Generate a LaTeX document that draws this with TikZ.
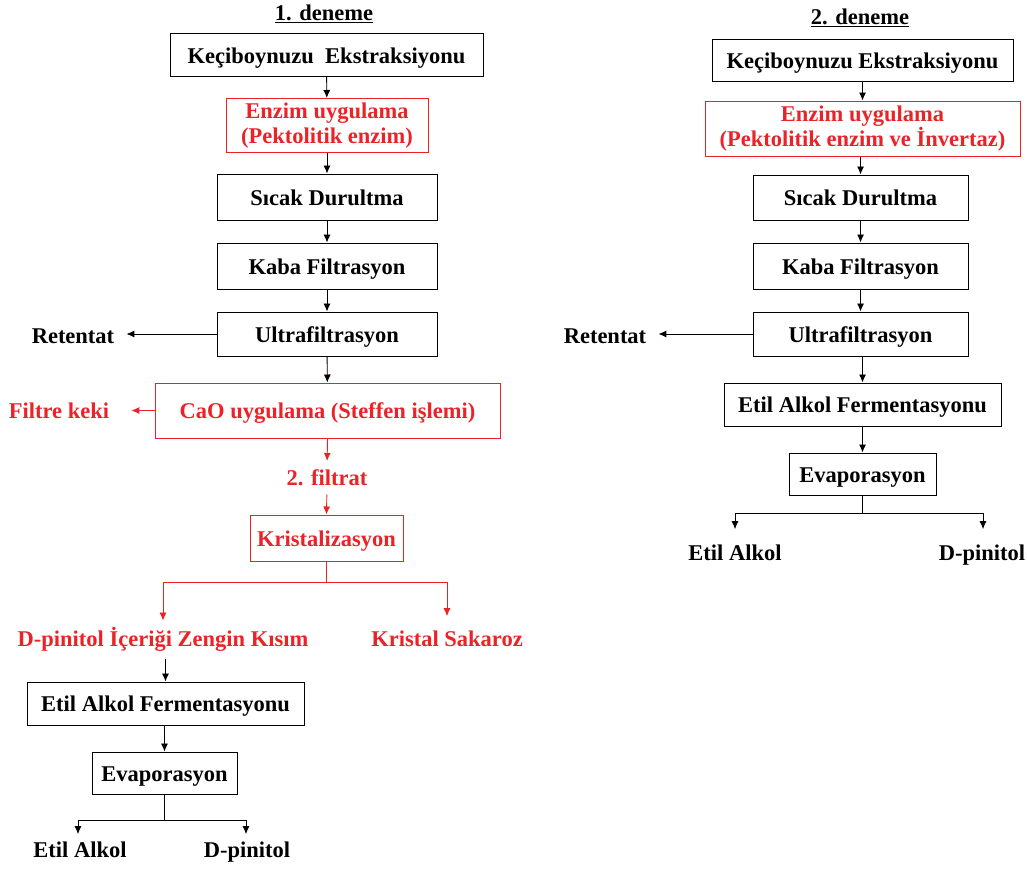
\documentclass[tikz,border=0pt]{standalone}
\usepackage{fontspec}
\setmainfont{Liberation Serif}
\usetikzlibrary{arrows.meta}
\definecolor{rd}{RGB}{235,35,40}
\begin{document}
\begin{tikzpicture}[x=1pt,y=-1pt,
 every node/.style={font=\bfseries\fontsize{22.5}{25}\selectfont},
 box/.style={draw, line width=1pt, inner sep=0pt, align=center, text height=18pt, text depth=2pt},
 box2/.style={draw, line width=1pt, inner sep=0pt, align=center},
 rbox/.style={box, draw=rd, text=rd},
 rbox2/.style={box2, draw=rd, text=rd},
 lbl/.style={inner sep=0pt},
 rlbl/.style={lbl, text=rd},
 arr/.style={-{Latex[length=8pt,width=7pt]}, line width=0.9pt},
 rarr/.style={arr, draw=rd},
 ln/.style={line width=0.9pt},
 rln/.style={ln, draw=rd}]
\useasboundingbox (0,0) rectangle (1027,868);
% ---------- left column ----------
\node[lbl, anchor=base] (t1) at (324,20) {\underline{1. deneme}};
\node[box, minimum width=313pt, minimum height=43pt] (a1) at (326.5,55) {Keçiboynuzu\ \ Ekstraksiyonu};
\node[rbox2, minimum width=202pt, minimum height=54pt] (a2) at (327,125.5) {Enzim uygulama\\(Pektolitik enzim)};
\node[box, minimum width=220pt, minimum height=46pt] (a3) at (327,197) {Sıcak Durultma};
\node[box, minimum width=220pt, minimum height=46pt] (a4) at (327,266) {Kaba Filtrasyon};
\node[box, minimum width=220pt, minimum height=44pt] (a5) at (327,334) {Ultrafiltrasyon};
\node[lbl, anchor=base] (ret1) at (73,343) {Retentat};
\node[rbox, minimum width=345pt, minimum height=55pt] (a6) at (327.5,410.5) {CaO uygulama (Steffen işlemi)};
\node[rlbl, anchor=base] (fk) at (59,418) {Filtre keki};
\node[rlbl, anchor=base] (f2) at (327,485) {2. filtrat};
\node[rbox, minimum width=153pt, minimum height=46pt] (a7) at (326.5,538) {Kristalizasyon};
\coordinate (kb) at (326.5,582);
\coordinate (kbl) at (163,582);
\coordinate (kbr) at (447,582);
\node[rlbl, anchor=base] (dp) at (163,646) {D-pinitol İçeriği Zengin Kısım};
\node[rlbl, anchor=base] (ks) at (447,646) {Kristal Sakaroz};
\node[box, minimum width=277pt, minimum height=43pt] (a8) at (165.5,703.5) {Etil Alkol Fermentasyonu};
\node[box, minimum width=145pt, minimum height=42pt] (a9) at (164.5,773) {Evaporasyon};
\coordinate (eb) at (164.5,820);
\coordinate (ebl) at (78,820);
\coordinate (ebr) at (246,820);
\node[lbl, anchor=base] (ea1) at (80,857) {Etil Alkol};
\node[lbl, anchor=base] (dp1) at (247,857) {D-pinitol};
% connectors left
\draw[arr] (a1) -- (a2);
\draw[arr] (a2) -- (a3);
\draw[arr] (a3) -- (a4);
\draw[arr] (a4) -- (a5);
\draw[arr, shorten >=12pt] (a5.west) -- (ret1.east |- a5.west);
\draw[arr] (a5) -- (a6);
\draw[rarr, shorten >=22pt] (a6.west) -- (fk.east |- a6.west);
\draw[rarr, shorten >=8pt] (a6.south) -- (f2.north);
\draw[rarr, shorten <=9pt] (f2.south) -- (a7.north);
\draw[rln] (a7.south) -- (kb);
\draw[rln] (kbl) -- (kbr);
\draw[rarr, shorten >=6pt] (kbl) -- (dp.north);
\draw[rarr, shorten >=14pt] (kbr) -- (ks.north);
\draw[arr, shorten <=8pt] (dp.south -| a8.north) -- (a8.north);
\draw[arr] (a8.south -| a9.north) -- (a9.north);
\draw[ln] (a9.south) -- (eb);
\draw[ln] (ebl) -- (ebr);
\draw[arr, shorten >=7pt] (ebl) -- (ebl |- ea1.north);
\draw[arr, shorten >=7pt] (ebr) -- (ebr |- dp1.north);
% ---------- right column ----------
\node[lbl, anchor=base] (t2) at (860,24) {\underline{2. deneme}};
\node[box, minimum width=301pt, minimum height=42pt] (b1) at (862.5,60) {Keçiboynuzu Ekstraksiyonu};
\node[rbox2, minimum width=315pt, minimum height=55pt] (b2) at (862.5,128.5) {Enzim uygulama\\(Pektolitik enzim ve İnvertaz)};
\node[box, minimum width=215pt, minimum height=45pt] (b3) at (860.5,197.5) {Sıcak Durultma};
\node[box, minimum width=215pt, minimum height=46pt] (b4) at (860.5,266) {Kaba Filtrasyon};
\node[box, minimum width=215pt, minimum height=44pt] (b5) at (860.5,334) {Ultrafiltrasyon};
\node[lbl, anchor=base] (ret2) at (605,343) {Retentat};
\node[box, minimum width=277pt, minimum height=43pt] (b6) at (862.5,404.5) {Etil Alkol Fermentasyonu};
\node[box, minimum width=147pt, minimum height=42pt] (b7) at (862.5,474) {Evaporasyon};
\coordinate (fb) at (862.5,513);
\coordinate (fbl) at (735,513);
\coordinate (fbr) at (983,513);
\node[lbl, anchor=base] (ea2) at (735,560) {Etil Alkol};
\node[lbl, anchor=base] (dp2) at (982,560) {D-pinitol};
% connectors right
\draw[arr] (b1.south -| b2.north) -- (b2.north);
\draw[arr] (b2.south -| b3.north) -- (b3.north);
\draw[arr] (b3) -- (b4);
\draw[arr] (b4) -- (b5);
\draw[arr, shorten >=12pt] (b5.west) -- (ret2.east |- b5.west);
\draw[arr] (b5.south -| b6.north) -- (b6.north);
\draw[arr] (b6) -- (b7);
\draw[ln] (b7.south) -- (fb);
\draw[ln] (fbl) -- (fbr);
\draw[arr, shorten >=15pt] (fbl) -- (fbl |- ea2.north);
\draw[arr, shorten >=15pt] (fbr) -- (fbr |- dp2.north);
\end{tikzpicture}
\end{document}
